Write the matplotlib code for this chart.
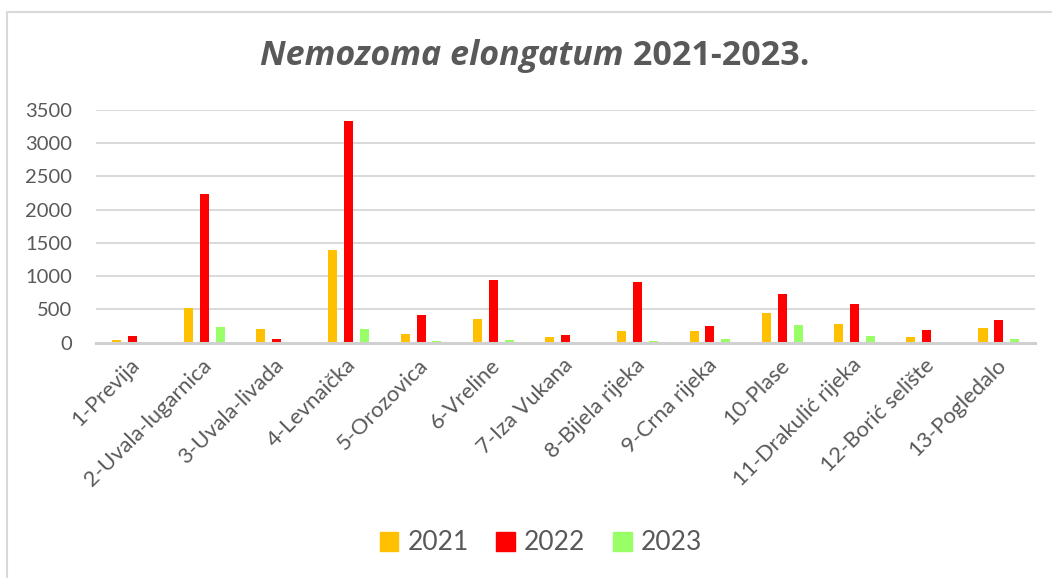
import matplotlib
matplotlib.use("Agg")
import matplotlib.pyplot as plt
import matplotlib.patches as mpatches
import matplotlib.transforms as mtransforms
import numpy as np

plt.rcParams['font.family'] = ['Lato', 'DejaVu Sans']

categories = ["1-Previja", "2-Uvala-lugarnica", "3-Uvala-livada", "4-Levnaička",
              "5-Orozovica", "6-Vreline", "7-Iza Vukana", "8-Bijela rijeka",
              "9-Crna rijeka", "10-Plase", "11-Drakulić rijeka", "12-Borić selište",
              "13-Pogledalo"]
series_names = ["2021", "2022", "2023"]
v2021 = [35, 523, 200, 1392, 122, 357, 77, 179, 179, 444, 281, 77, 214]
v2022 = [95, 2231, 50, 3332, 418, 934, 112, 918, 245, 735, 587, 184, 337]
v2023 = [3, 231, 5, 200, 20, 41, 15, 20, 46, 265, 92, 3, 46]
yticks = [0, 500, 1000, 1500, 2000, 2500, 3000, 3500]

colors = ["#FFC000", "#FF0000", "#99FF66"]
text_color = "#595959"
grid_color = "#D9D9D9"

W, H = 1052, 578
fig = plt.figure(figsize=(W / 100, H / 100), dpi=100)
ax = fig.add_axes([96 / W, 1 - 342.5 / H, (1035 - 96) / W, (342.5 - 110) / H])

x = np.arange(len(categories))
offsets = [-0.22, 0.0, 0.22]
bw = 0.125
for vals, off, c, name in zip([v2021, v2022, v2023], offsets, colors, series_names):
    ax.bar(x + off, vals, width=bw, color=c, label=name, zorder=3)

ax.set_xlim(-0.5, len(categories) - 0.5)
ax.set_ylim(0, 3500)
ax.set_yticks(yticks)
ax.set_yticklabels([str(t) for t in yticks], fontsize=14.5, color=text_color)
ax.tick_params(axis='y', length=0, pad=17)
ax.yaxis.grid(True, color=grid_color, lw=1.4, zorder=0)
ax.set_axisbelow(True)
for s in ['left', 'right', 'top']:
    ax.spines[s].set_visible(False)
ax.spines['bottom'].set_color('#D0D0D0')
ax.spines['bottom'].set_linewidth(2.2)
ax.spines['bottom'].set_zorder(4)

ax.set_xticks(x)
ax.set_xticklabels(categories, rotation=45, ha='right', va='top',
                   rotation_mode='anchor', fontsize=15.8, color=text_color)
ax.tick_params(axis='x', length=0, pad=9)
shift = mtransforms.ScaledTranslation(-3 / 100, 0, fig.dpi_scale_trans)
for lbl in ax.get_xticklabels():
    lbl.set_transform(lbl.get_transform() + shift)

# border of chart area
rect = mpatches.Rectangle((7 / W, -0.1), 1.2, (1 - 12 / H) + 0.1,
                          transform=fig.transFigure, fill=False,
                          edgecolor=grid_color, lw=1.5)
fig.patches.append(rect)

# title with mixed styles
renderer = fig.canvas.get_renderer()
ty = 1 - 56 / H
tfam = ['Open Sans', 'DejaVu Sans']
t1 = fig.text(0, ty, "Nemozoma elongatum", fontsize=24.5, fontweight='bold',
              fontstyle='italic', color=text_color, va='center', ha='left', family=tfam)
t2 = fig.text(0, ty, " 2021-2023.", fontsize=24.5, fontweight='bold',
              color=text_color, va='center', ha='left', family=tfam)
w1 = t1.get_window_extent(renderer).width
w2 = t2.get_window_extent(renderer).width
cx = 535
start = cx - (w1 + w2) / 2
t1.set_x(start / W)
t2.set_x((start + w1) / W)

handles = [mpatches.Patch(color=c) for c in colors]
fig.legend(handles, series_names, loc='center', bbox_to_anchor=(541 / W, 1 - 543 / H),
           ncol=3, frameon=False, fontsize=19, handlelength=0.7, handleheight=0.7,
           handletextpad=0.35, columnspacing=1.05, labelcolor=text_color)

fig.savefig("out.png", dpi=100)
